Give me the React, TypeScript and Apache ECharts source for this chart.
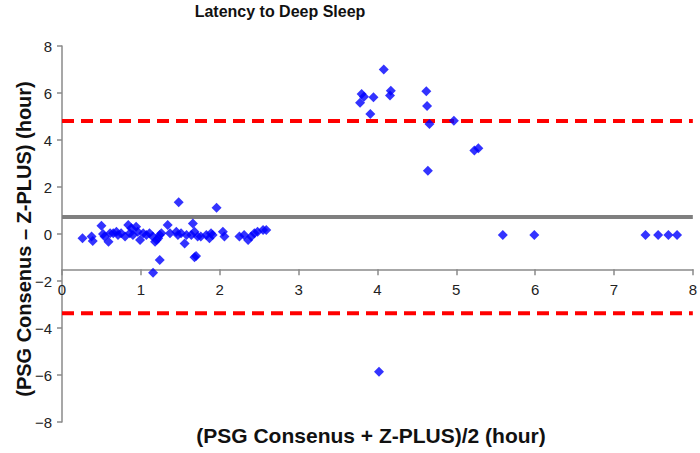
import React, { useEffect, useRef } from "react";
import * as echarts from "echarts";

const titleText = "Latency to Deep Sleep";
const xTitle = "(PSG Consenus + Z-PLUS)/2 (hour)";
const yTitle = "(PSG Consenus \u2013 Z-PLUS) (hour)";

const lowCluster: [number, number][] = [
  [0.26, -0.18], [0.375, -0.11], [0.39, -0.3], [0.5, 0.35], [0.52, 0.0], [0.54, -0.11],
  [0.59, -0.33], [0.61, 0.03], [0.65, 0.03], [0.69, 0.1], [0.71, -0.04], [0.75, 0.03],
  [0.8, -0.11], [0.84, 0.38], [0.86, 0.03], [0.88, 0.24], [0.9, -0.04], [0.94, 0.31],
  [0.96, 0.1], [0.99, -0.26], [1.03, 0.03], [1.07, -0.04], [1.11, 0.03], [1.15, -0.11],
  [1.18, -0.33], [1.2, -0.26], [1.22, -0.18], [1.24, -0.04], [1.26, 0.03], [1.34, 0.38],
  [1.37, 0.03], [1.45, 0.1], [1.47, -0.04], [1.51, 0.03], [1.58, -0.04], [1.64, -0.04],
  [1.66, 0.45], [1.68, 0.1], [1.72, -0.11], [1.76, -0.11], [1.83, -0.04], [1.87, -0.18],
  [1.89, 0.03], [1.91, -0.04], [2.04, 0.1], [2.06, -0.11], [2.25, -0.11], [2.31, -0.04],
  [2.36, -0.26], [2.4, -0.11], [2.44, 0.03], [2.48, 0.1], [2.55, 0.17], [2.59, 0.17],
];

const lowOutliers: [number, number][] = [
  [1.48, 1.35], [1.96, 1.12], [1.555, -0.4], [1.24, -1.11], [1.68, -0.99], [1.7, -0.94], [1.155, -1.65],
];

const highCluster: [number, number][] = [
  [4.08, 7.0], [3.8, 5.96], [3.83, 5.84], [3.78, 5.59], [3.95, 5.82], [3.91, 5.11],
  [4.17, 6.1], [4.16, 5.89], [4.62, 6.07], [4.63, 5.45], [4.66, 4.68], [4.97, 4.82],
  [5.23, 3.55], [5.28, 3.65], [4.64, 2.69], [4.02, -5.86],
];

const flatPoints: [number, number][] = [
  [5.59, -0.04], [5.99, -0.04], [7.4, -0.04], [7.56, -0.04], [7.69, -0.04], [7.8, -0.04],
];

const meanDiff = 0.72;
const upperLoA = 4.81;
const lowerLoA = -3.37;
const xAxisCross = -1.5;
const xRange = [0, 8];

const FONT = "'Liberation Sans', Arial, sans-serif";

export default function App() {
  const ref = useRef<HTMLDivElement>(null);
  useEffect(() => {
    if (!ref.current) return;
    const chart = echarts.init(ref.current, undefined, { renderer: "svg" });
    const gridTop = 46;
    const gridBottom = 31;
    const plotH = 453 - gridTop - gridBottom;
    const crossPx = gridTop + ((8 - xAxisCross) / 16) * plotH;
    const xOffset = -(453 - gridBottom - crossPx);
    const all = [...lowCluster, ...lowOutliers, ...highCluster, ...flatPoints];
    chart.setOption({
      animation: false,
      textStyle: { fontFamily: FONT },
      grid: { left: 62, right: 5, top: gridTop, bottom: gridBottom },
      xAxis: {
        type: "value",
        min: 0,
        max: 8,
        interval: 1,
        offset: xOffset,
        axisLine: { show: true, onZero: false, lineStyle: { color: "#8a8a8a", width: 1.5 } },
        axisTick: { show: true, length: 6, lineStyle: { color: "#8a8a8a", width: 1.5 } },
        axisLabel: { color: "#222", fontSize: 15, margin: 13, fontFamily: FONT },
        splitLine: { show: false },
      },
      yAxis: {
        type: "value",
        min: -8,
        max: 8,
        interval: 2,
        axisLine: { show: true, lineStyle: { color: "#8a8a8a", width: 1.5 } },
        axisTick: { show: true, length: 5, lineStyle: { color: "#8a8a8a", width: 1.5 } },
        axisLabel: {
          color: "#222",
          fontSize: 15,
          margin: 10,
          fontFamily: FONT,
          formatter: (v: number) => String(v).replace("-", "\u2212"),
        },
        splitLine: { show: false },
      },
      graphic: [
        {
          type: "text",
          x: 280,
          y: 11,
          style: {
            text: titleText,
            font: `bold 16px ${FONT}`,
            fill: "#111",
            align: "center",
            verticalAlign: "middle",
          },
        },
        {
          type: "text",
          x: 371,
          y: 435,
          style: {
            text: xTitle,
            font: `bold 21px ${FONT}`,
            fill: "#111",
            align: "center",
            verticalAlign: "middle",
          },
        },
        {
          type: "text",
          x: 24,
          y: 239,
          rotation: Math.PI / 2,
          style: {
            text: yTitle,
            font: `bold 20px ${FONT}`,
            fill: "#111",
            align: "center",
            verticalAlign: "middle",
          },
        },
      ],
      series: [
        {
          type: "line",
          data: [[xRange[0], meanDiff], [xRange[1], meanDiff]],
          symbol: "none",
          lineStyle: { color: "#7f7f7f", width: 4 },
          z: 2,
        },
        {
          type: "line",
          data: [[xRange[0], upperLoA], [xRange[1], upperLoA]],
          symbol: "none",
          lineStyle: { color: "#ff0000", width: 4, type: [12, 7] },
          z: 2,
        },
        {
          type: "line",
          data: [[xRange[0], lowerLoA], [xRange[1], lowerLoA]],
          symbol: "none",
          lineStyle: { color: "#ff0000", width: 4, type: [12, 7] },
          z: 2,
        },
        {
          type: "scatter",
          data: all,
          symbol: "diamond",
          symbolSize: 10,
          itemStyle: { color: "#0000ff" },
          z: 3,
        },
      ],
    });
    return () => chart.dispose();
  }, []);
  return <div ref={ref} style={{ width: 700, height: 453, position: "absolute", left: 0, top: 0 }} />;
}
